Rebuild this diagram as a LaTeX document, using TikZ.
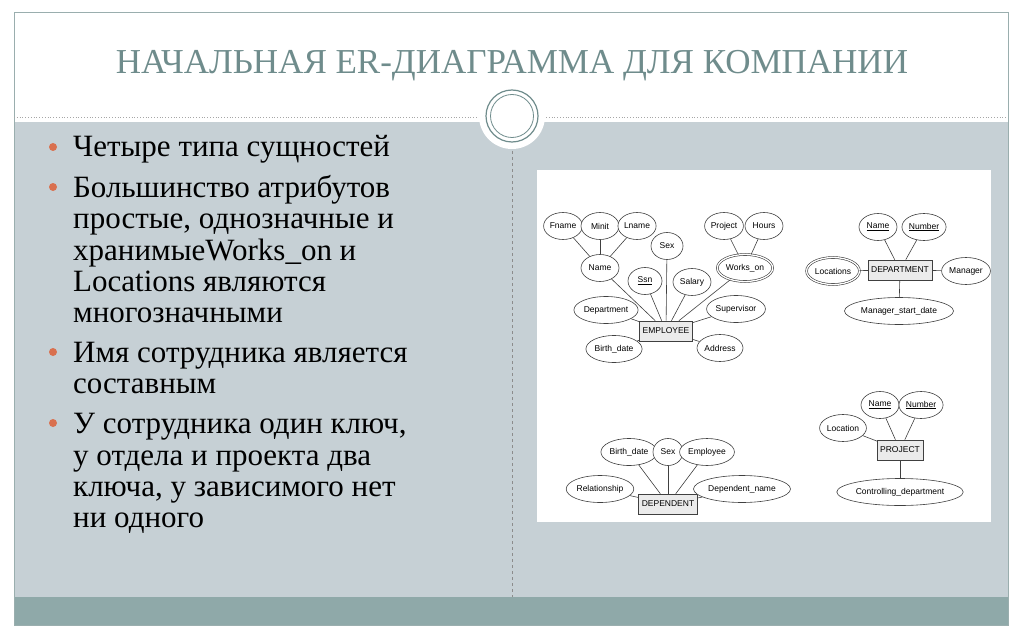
\documentclass[tikz,border=0pt]{standalone}
\usepackage{fontspec}
\setmainfont{Liberation Serif}
\newfontfamily\erfont{Liberation Sans}
\usetikzlibrary{shapes.geometric}
\definecolor{titc}{HTML}{6F8C8C}
\definecolor{bodyc}{HTML}{C6D0D5}
\definecolor{bandc}{HTML}{8FA9A9}
\definecolor{framec}{HTML}{9AAEAE}
\definecolor{bulc}{HTML}{D9704F}
\tikzset{
 attr/.style={ellipse,draw=black!75,semithick,fill=white,inner sep=0.5pt,minimum height=27,minimum width=38,font=\erfont\fontsize{8.5}{9}\selectfont},
 mattr/.style={attr,double,double distance=1.3pt},
 ent/.style={rectangle,draw=black!75,semithick,fill=black!8,minimum height=20,inner sep=3pt,font=\erfont\fontsize{8.5}{9}\selectfont},
 bl/.style={anchor=base west,inner sep=0,font=\fontsize{31}{31}\selectfont},
 er/.style={draw=black!75,semithick}
}
\begin{document}
\begin{tikzpicture}[x=1pt,y=-1pt]
\useasboundingbox (0,0) rectangle (1024,639);
\fill[white] (0,0) rectangle (1024,639);
\fill[bodyc] (14,122) rectangle (1008,597);
\fill[bandc] (14,597) rectangle (1008,625);
\draw[framec,thin] (14,12) rectangle (1008,625);
\draw[black!35,dotted,thick] (14,117) -- (1008,117);
\draw[black!45,dashed] (512,145) -- (512,597);
\fill[white] (512,116) circle (33);
\draw[titc,line width=1.2pt] (512,116) circle (26);
\draw[titc,line width=0.8pt] (512,116) circle (21.5);
\node[font=\fontsize{35}{38}\selectfont,text=titc] (title) at (512,66) {НАЧАЛЬНАЯ ER-ДИАГРАММА ДЛЯ КОМПАНИИ};
% bullets
\foreach \y in {147,187,352,423} \fill[bulc] (53,\y) circle (4);
\node[bl] (l1) at (73,157) {Четыре типа сущностей};
\node[bl] (l2) at (73,197) {Большинство атрибутов};
\node[bl] (l3) at (73,228) {простые, однозначные и};
\node[bl] (l4) at (73,260) {хранимыеWorks\_on и};
\node[bl] (l5) at (73,291) {Locations являются};
\node[bl] (l6) at (73,322) {многозначными};
\node[bl] (l7) at (73,362) {Имя сотрудника является};
\node[bl] (l8) at (73,393) {составным};
\node[bl] (l9) at (73,433) {У сотрудника один ключ,};
\node[bl] (l10) at (73,465) {у отдела и проекта два};
\node[bl] (l11) at (73,496) {ключа, у зависимого нет};
\node[bl] (l12) at (73,527) {ни одного};
% panel
\fill[white] (537,170) rectangle (991,522);
% EMPLOYEE
\node[ent] (emp) at (666,331) {EMPLOYEE};
\node[attr] (fname) at (563,226) {Fname};
\node[attr] (minit) at (600,226) {Minit};
\node[attr] (lname) at (637,226) {Lname};
\node[attr] (name) at (600,268) {Name};
\node[attr,minimum width=32] (sex) at (667,246) {Sex};
\node[attr,minimum width=34] (ssn) at (645,281) {\underline{Ssn}};
\node[attr] (sal) at (692,282) {Salary};
\node[mattr,minimum width=48] (wo) at (745,268) {Works\_on};
\node[attr] (proj) at (724,226) {Project};
\node[attr] (hours) at (764,226) {Hours};
\node[attr,minimum width=56] (dept) at (606,310) {Department};
\node[attr,minimum width=54] (sup) at (736,309) {Supervisor};
\node[attr,minimum width=50] (bd) at (614,349) {Birth\_date};
\node[attr,minimum width=46] (addr) at (720,348) {Address};
\foreach \a/\b in {fname/name,minit/name,lname/name,proj/wo,hours/wo,name/emp,sex/emp,ssn/emp,sal/emp,wo/emp,dept/emp,sup/emp,bd/emp,addr/emp}
  \draw[er] (\a) -- (\b);
% DEPARTMENT
\node[ent] (dep) at (900,270) {DEPARTMENT};
\node[attr] (dn) at (878,227) {\underline{Name}};
\node[attr,minimum width=40] (dnum) at (924,227) {\underline{Number}};
\node[mattr,minimum width=46] (loc) at (833,271) {Locations};
\node[attr,minimum width=44] (mgr) at (966,271) {Manager};
\node[attr,minimum width=90] (msd) at (899,311) {Manager\_start\_date};
\foreach \a in {dn,dnum,loc,mgr,msd} \draw[er] (\a) -- (dep);
% PROJECT
\node[ent] (pr) at (900,450) {PROJECT};
\node[attr] (pn) at (880,405) {\underline{Name}};
\node[attr,minimum width=40] (pnum) at (921,405) {\underline{Number}};
\node[attr,minimum width=44] (ploc) at (843,428) {Location};
\node[attr,minimum width=94] (cd) at (900,492) {Controlling\_department};
\foreach \a in {pn,pnum,ploc,cd} \draw[er] (\a) -- (pr);
% DEPENDENT
\node[ent] (dpd) at (668,504) {DEPENDENT};
\node[attr,minimum width=48] (dbd) at (629,452) {Birth\_date};
\node[attr,minimum width=30] (dsex) at (668,452) {Sex};
\node[attr,minimum width=46] (demp) at (707,452) {Employee};
\node[attr,minimum width=56] (rel) at (600,489) {Relationship};
\node[attr,minimum width=74] (dname) at (742,489) {Dependent\_name};
\foreach \a in {dbd,dsex,demp,rel,dname} \draw[er] (\a) -- (dpd);
\end{tikzpicture}
\end{document}
